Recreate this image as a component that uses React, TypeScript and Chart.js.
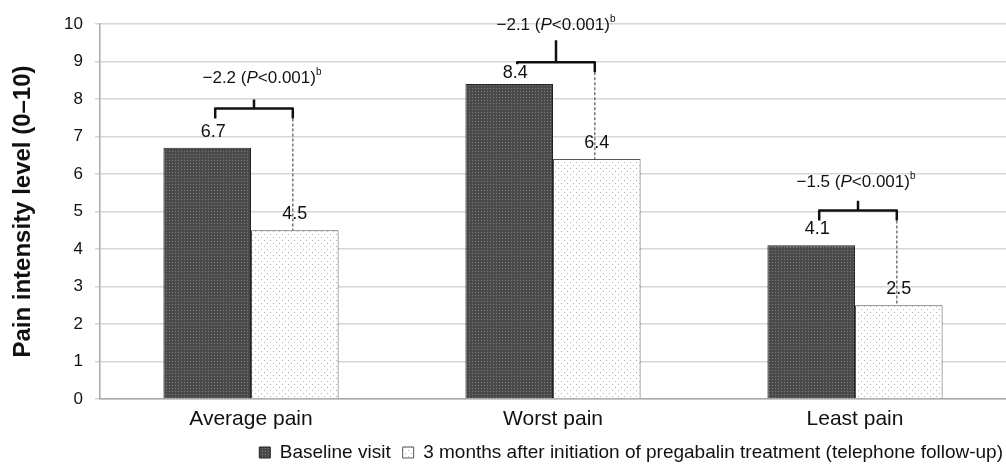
import React, { useEffect, useRef } from "react";
import { Chart, registerables } from "chart.js";

Chart.register(...registerables);

const categories = ["Average pain", "Worst pain", "Least pain"];
const baselineValues = [6.7, 8.4, 4.1];
const followUpValues = [4.5, 6.4, 2.5];
const seriesNames = [
  "Baseline visit",
  "3 months after initiation of pregabalin treatment (telephone follow-up)",
];
const yAxisTitle = "Pain intensity level (0–10)";
const yMin = 0;
const yMax = 10;
const yStep = 1;
const differenceLabels = ["−2.2", "−2.1", "−1.5"];
const pValueText = "<0.001)";
const pSymbol = "P";
const superscript = "b";
const bracketLevels = [7.75, 8.98, 5.03];
const bracketTipLevels = [7.99, 9.57, 5.29];
const differenceTextLevels = [8.56, 9.97, 5.78];

// styling (pixels)
const FONT = "'Liberation Sans', Arial, Helvetica, sans-serif";
const baselineLabelGap = [16, 11, 16];
const followUpLabelGap = [16, 16, 16];
const bracketLeftDrop = [10, 2, 10];
const diffTextShift = [8, 0, -2];
const legendShift = 9;

function makePattern(
  size: number,
  bg: string,
  dot: string,
  dots: Array<[number, number]>,
  dotSize: number
) {
  const c = document.createElement("canvas");
  c.width = size;
  c.height = size;
  const g = c.getContext("2d")!;
  g.fillStyle = bg;
  g.fillRect(0, 0, size, size);
  g.fillStyle = dot;
  dots.forEach(([x, y]) => g.fillRect(x, y, dotSize, dotSize));
  const ctx = document.createElement("canvas").getContext("2d")!;
  return ctx.createPattern(c, "repeat")!;
}

const annotationPlugin = {
  id: "bracketAnnotations",
  afterLayout(chart: any) {
    if (chart.legend) {
      chart.legend.left += legendShift;
      chart.legend.right += legendShift;
    }
  },
  afterDatasetsDraw(chart: any) {
    const ctx = chart.ctx as CanvasRenderingContext2D;
    const yScale = chart.scales.y;
    const m0 = chart.getDatasetMeta(0);
    const m1 = chart.getDatasetMeta(1);
    ctx.save();
    ctx.fillStyle = "#111";
    ctx.font = `18px ${FONT}`;
    ctx.textAlign = "center";
    ctx.textBaseline = "middle";
    m0.data.forEach((bar: any, i: number) => {
      ctx.fillText(baselineValues[i].toFixed(1), bar.x + 6, bar.y - baselineLabelGap[i]);
    });
    m1.data.forEach((bar: any, i: number) => {
      ctx.fillText(followUpValues[i].toFixed(1), bar.x, bar.y - followUpLabelGap[i]);
    });

    categories.forEach((_, i) => {
      const b0 = m0.data[i];
      const b1 = m1.data[i];
      const xl = b0.x + 8;
      const xr = b1.x - 2;
      const xm = (xl + xr) / 2;
      const yb = yScale.getPixelForValue(bracketLevels[i]);
      const yt = yScale.getPixelForValue(bracketTipLevels[i]);
      const drop = 10;
      ctx.strokeStyle = "#777";
      ctx.lineWidth = 1.5;
      ctx.setLineDash([3, 2]);
      ctx.beginPath();
      ctx.moveTo(xr, yb + drop);
      ctx.lineTo(xr, b1.y);
      ctx.stroke();
      ctx.setLineDash([]);
      ctx.strokeStyle = "#111";
      ctx.lineWidth = 2.5;
      ctx.lineJoin = "round";
      ctx.beginPath();
      ctx.moveTo(xl, yb + bracketLeftDrop[i]);
      ctx.lineTo(xl, yb);
      ctx.lineTo(xr, yb);
      ctx.lineTo(xr, yb + drop);
      ctx.moveTo(xm, yb);
      ctx.lineTo(xm, yt);
      ctx.stroke();
      const ty = yScale.getPixelForValue(differenceTextLevels[i]);
      const segs: Array<[string, string, number]> = [
        [differenceLabels[i] + " (", `17px ${FONT}`, 0],
        [pSymbol, `italic 17px ${FONT}`, 0],
        [pValueText, `17px ${FONT}`, 0],
        [superscript, `10px ${FONT}`, -6],
      ];
      let total = 0;
      segs.forEach(([t, f]) => {
        ctx.font = f;
        total += ctx.measureText(t).width;
      });
      let x = xm + diffTextShift[i] - total / 2;
      ctx.textAlign = "left";
      ctx.fillStyle = "#111";
      segs.forEach(([t, f, dy]) => {
        ctx.font = f;
        ctx.fillText(t, x, ty + dy);
        x += ctx.measureText(t).width;
      });
      ctx.textAlign = "center";
    });
    ctx.restore();
  },
};

export default function App() {
  const ref = useRef<HTMLCanvasElement | null>(null);
  useEffect(() => {
    if (!ref.current) return;
    const darkPattern = makePattern(3, "#4a4a4a", "#7a7a7a", [[1, 1]], 1);
    const lightPattern = makePattern(
      6,
      "#ffffff",
      "#b0b0b0",
      [
        [0, 0],
        [3, 3],
      ],
      1
    );
    const chart = new Chart(ref.current, {
      type: "bar",
      data: {
        labels: categories,
        datasets: [
          {
            label: seriesNames[0],
            data: baselineValues,
            backgroundColor: darkPattern as any,
            borderColor: "#222",
            borderWidth: 1,
          },
          {
            label: seriesNames[1],
            data: followUpValues,
            backgroundColor: lightPattern as any,
            borderColor: "#555",
            borderWidth: 1,
          },
        ],
      },
      options: {
        animation: false,
        responsive: true,
        maintainAspectRatio: false,
        layout: { padding: { top: 24, right: 0, left: 0, bottom: -4 } },
        datasets: { bar: { categoryPercentage: 0.58, barPercentage: 1 } },
        plugins: {
          legend: {
            position: "bottom",
            align: "end",
            labels: {
              boxWidth: 11,
              boxHeight: 11,
              color: "#111",
              padding: 12,
              font: { family: FONT, size: 19 },
            },
          },
          tooltip: { enabled: false },
        },
        scales: {
          x: {
            grid: { display: false, drawTicks: false },
            border: { display: true, color: "#aaa", width: 1.5 },
            ticks: {
              color: "#111",
              padding: 8,
              font: { family: FONT, size: 21 },
            },
            afterFit(scale: any) {
              scale.height = 32;
            },
          },
          y: {
            min: yMin,
            max: yMax,
            ticks: {
              stepSize: yStep,
              color: "#111",
              padding: 12,
              font: { family: FONT, size: 17 },
            },
            grid: { color: "#d6d6d6", lineWidth: 1.5, tickLength: 5 },
            border: { color: "#aaa", width: 1.5 },
            title: {
              display: true,
              text: yAxisTitle,
              color: "#111",
              padding: { top: 9, bottom: 0 },
              font: { family: FONT, size: 24, weight: "bold" },
            },
            afterFit(scale: any) {
              scale.width = 100;
            },
          },
        },
      },
      plugins: [annotationPlugin],
    });
    return () => chart.destroy();
  }, []);
  return (
    <div style={{ position: "absolute", left: 0, top: 0, width: 1006, height: 468 }}>
      <canvas ref={ref} />
    </div>
  );
}
